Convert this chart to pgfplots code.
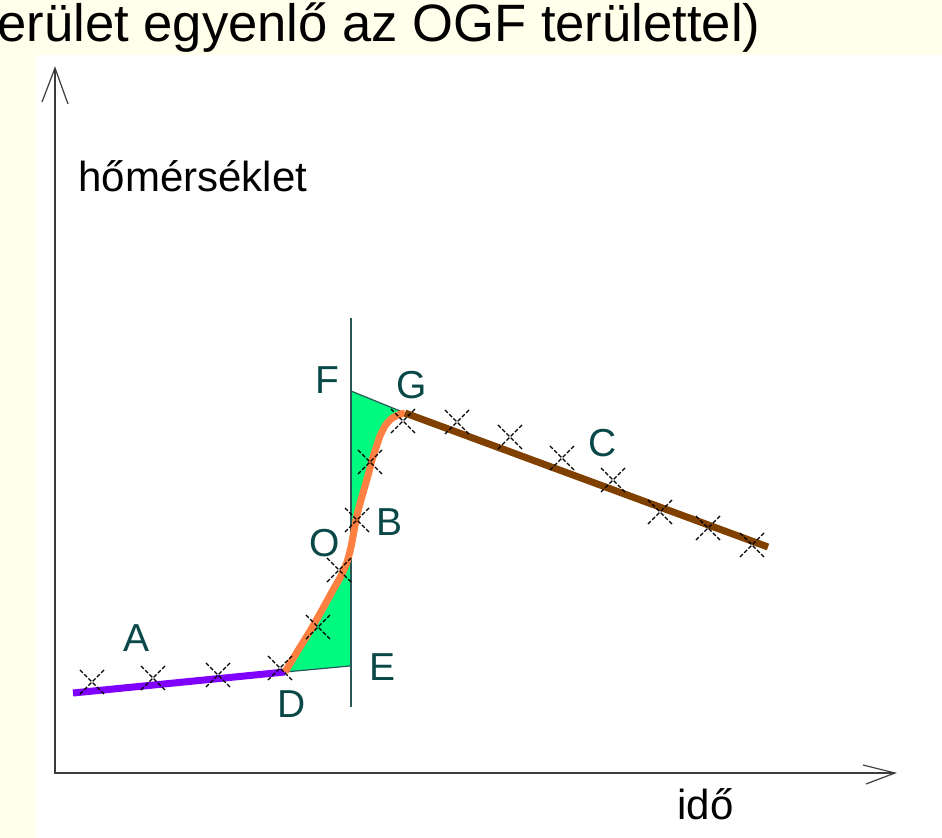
\documentclass[border=0pt]{standalone}
\usepackage{fontspec}
\setmainfont{Liberation Sans}
\usepackage{pgfplots}
\pgfplotsset{compat=1.18}

\definecolor{bandyellow}{RGB}{255,255,236}
\definecolor{areagreen}{RGB}{0,250,128}
\definecolor{lineA}{RGB}{128,0,255}
\definecolor{lineB}{RGB}{255,128,64}
\definecolor{lineC}{RGB}{128,64,0}
\definecolor{guide}{RGB}{40,88,88}
\definecolor{lettercol}{RGB}{10,72,72}
\definecolor{axiscol}{RGB}{60,60,60}

\begin{document}
\begin{tikzpicture}
% page frame and background bands
\useasboundingbox (0,0) rectangle (471pt,419pt);
\clip (0,0) rectangle (471pt,419pt);
\fill[white] (0,0) rectangle (471pt,419pt);
\fill[bandyellow] (0,391.5pt) rectangle (471pt,419pt);
\fill[bandyellow] (0,0) rectangle (18pt,419pt);

\begin{axis}[
  at={(0,0)}, anchor=south west,
  width=471pt, height=419pt, scale only axis,
  hide axis, clip=false,
  xmin=0, xmax=942, ymin=0, ymax=838, y dir=reverse,
  crossmark/.style={only marks, mark=x, mark size=8.5pt,
    mark options={black, line width=0.65pt, dash pattern=on 2pt off 1pt}},
]

% shaded areas between the curve and the vertical O line (DEO and OGF)
\addplot[fill=areagreen, draw=none] coordinates {
  (285,672) (350,666) (351,391) (405,413)
  (398,415) (391,419) (385,426) (380,436) (376,448) (372,460)
  (369,472) (365,486) (361,500) (357,515) (354,531) (351,547)
  (347,562) (341,576) (333,590) (322,610) (310,631) (297,652) (285,672)
};
\addplot[guide, line width=0.6pt, no marks] coordinates {(285,672) (350,666)};
\addplot[guide, line width=0.6pt, no marks] coordinates {(351,391) (405,413)};

% vertical line through O
\addplot[guide, line width=1pt, no marks] coordinates {(351,318) (351,707)};

% segment A
\addplot[lineA, line width=3.5pt, no marks] coordinates {(73,693) (285,672)};
% transition curve D--O--G
\addplot[lineB, line width=3.5pt, no marks, smooth, tension=0.4] coordinates {
  (285,672) (297,652) (310,631) (322,610) (333,590) (341,576) (347,562)
  (351,547) (354,531) (357,515) (361,500) (365,486) (369,472) (372,460)
  (376,448) (380,436) (385,426) (391,419) (398,415) (405,413)
};
% segment C
\addplot[lineC, line width=3.5pt, no marks] coordinates {(405,413) (768,547)};

% measured points
\addplot[crossmark] coordinates {(92,682) (153,678) (218,675) (280,668)};
\addplot[crossmark] coordinates {(318,627) (339,570) (357,520) (370,462) (403,421)};
\addplot[crossmark] coordinates {(457,422) (510,437) (562,458) (613,480) (660,512) (708,528) (752,545)};

% coordinate axes
\draw[axiscol, line width=1.25pt] (axis cs:55,68) -- (axis cs:55,773) -- (axis cs:895,773);
\draw[axiscol, line width=0.6pt] (axis cs:42,102) -- (axis cs:55,68) -- (axis cs:68,104);
\draw[axiscol, line width=0.6pt] (axis cs:863,765) -- (axis cs:895,773) -- (axis cs:866,784);

% texts
\node[anchor=base west, inner sep=0, font=\fontsize{26.3}{30}\selectfont]
  at (axis cs:-3,42) {erület egyenlő az OGF területtel)};
\node[anchor=base west, inner sep=0, font=\fontsize{21}{25}\selectfont]
  at (axis cs:78,192) {hőmérséklet};
\node[anchor=base west, inner sep=0, font=\fontsize{21}{25}\selectfont]
  at (axis cs:677,819) {idő};

\begin{scope}[every node/.style={inner sep=0, text=lettercol, font=\fontsize{19.5}{23}\selectfont}]
\node at (axis cs:137,638) {A};
\node at (axis cs:390,522) {B};
\node at (axis cs:603,443) {C};
\node at (axis cs:292,704) {D};
\node at (axis cs:383,667) {E};
\node at (axis cs:327,380) {F};
\node at (axis cs:412,385) {G};
\node at (axis cs:325,543) {O};
\end{scope}
\end{axis}
\end{tikzpicture}
\end{document}
